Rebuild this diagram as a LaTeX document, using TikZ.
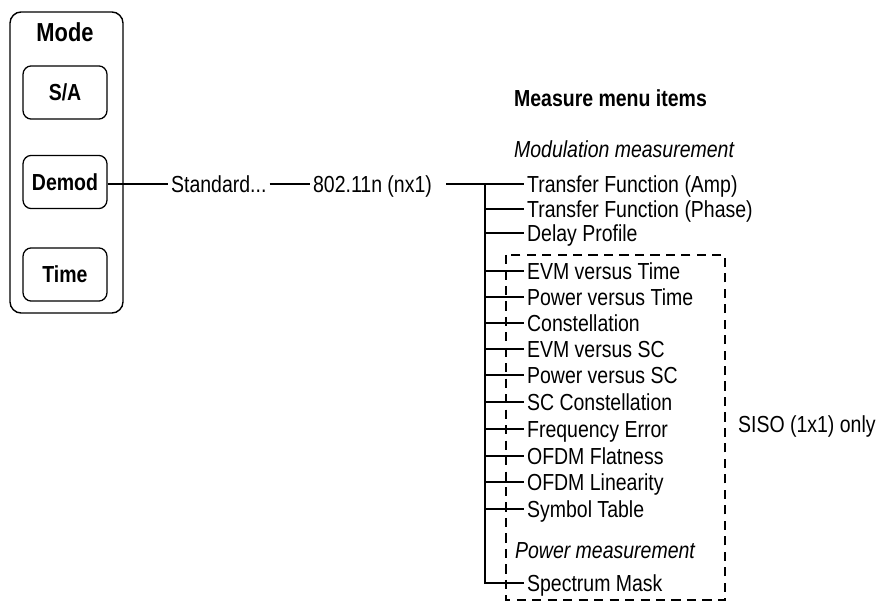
\documentclass[tikz,border=0pt]{standalone}
\usepackage{fontspec}
\setmainfont{Liberation Sans}[FakeStretch=0.84]
\usetikzlibrary{positioning}
\newcommand\menufont{\fontsize{16.5}{20}\selectfont}
\tikzset{
  menu/.style={anchor=west, inner sep=2pt, text height=11.8pt, text depth=0pt, font=\menufont},
  key/.style={draw, line width=0.9pt, rounded corners=6pt, minimum width=2.1cm, minimum height=1.33cm, text height=11.8pt, text depth=0pt, font=\menufont\bfseries},
  tree/.style={line width=1.3pt},
  siso/.style={line width=1pt, dash pattern=on 6.5pt off 4.5pt},
}

\begin{document}
\begin{tikzpicture}[x=0.025cm, y=-0.025cm]
\useasboundingbox (0,0) rectangle (880,602);
\node[draw, line width=1pt, rounded corners=8pt, minimum width=2.825cm, minimum height=7.525cm] (panel) at (66.5,162.5) {};
\node[text height=13pt, text depth=0pt, font=\fontsize{18.5}{22}\selectfont\bfseries] (modelbl) at (65,32) {Mode};
\node[key] (sa) at (65,92.5) {S/A};
\node[key] (demod) at (65,182) {Demod};
\node[key] (time) at (65,274.5) {Time};

\node[menu] (std) at (168,184) {Standard...};
\node[menu] (nmode) at (310,184) {802.11n (nx1)};

\node[menu, font=\menufont\bfseries] (measure) at (511,98) {Measure menu items};
\node[menu, font=\menufont\itshape] (modmeas) at (511,149) {Modulation measurement};
\node[menu] (tfamp) at (524,184) {Transfer Function (Amp)};
\node[menu] (tfphase) at (524,209) {Transfer Function (Phase)};
\node[menu] (delay) at (524,233) {Delay Profile};
\node[menu] (evmt) at (524,271) {EVM versus Time};
\node[menu] (pvt) at (524,297) {Power versus Time};
\node[menu] (constel) at (524,323) {Constellation};
\node[menu] (evmsc) at (524,349) {EVM versus SC};
\node[menu] (pvsc) at (524,375) {Power versus SC};
\node[menu] (scconst) at (524,402) {SC Constellation};
\node[menu] (freqerr) at (524,429) {Frequency Error};
\node[menu] (flat) at (524,456) {OFDM Flatness};
\node[menu] (lin) at (524,482) {OFDM Linearity};
\node[menu] (symtab) at (524,509) {Symbol Table};
\node[menu, font=\menufont\itshape] (powmeas) at (512,550) {Power measurement};
\node[menu] (smask) at (524,583) {Spectrum Mask};
\node[menu] (siso) at (735,424) {SISO (1x1) only};

\coordinate (trunk) at (485,184);
\draw[tree] (demod.east |- std) -- (std);
\draw[tree] (std) -- (nmode);
\draw[tree, shorten <=8pt] (nmode) -- (tfamp);
\draw[tree] (trunk) |- (smask.west);
\draw[tree] (trunk |- tfphase.west) -- (tfphase.west)
  (trunk |- delay.west) -- (delay.west)
  (trunk |- evmt.west) -- (evmt.west)
  (trunk |- pvt.west) -- (pvt.west)
  (trunk |- constel.west) -- (constel.west)
  (trunk |- evmsc.west) -- (evmsc.west)
  (trunk |- pvsc.west) -- (pvsc.west)
  (trunk |- scconst.west) -- (scconst.west)
  (trunk |- freqerr.west) -- (freqerr.west)
  (trunk |- flat.west) -- (flat.west)
  (trunk |- lin.west) -- (lin.west)
  (trunk |- symtab.west) -- (symtab.west);
\draw[siso] (506,255) rectangle (725,600);
\end{tikzpicture}
\end{document}
